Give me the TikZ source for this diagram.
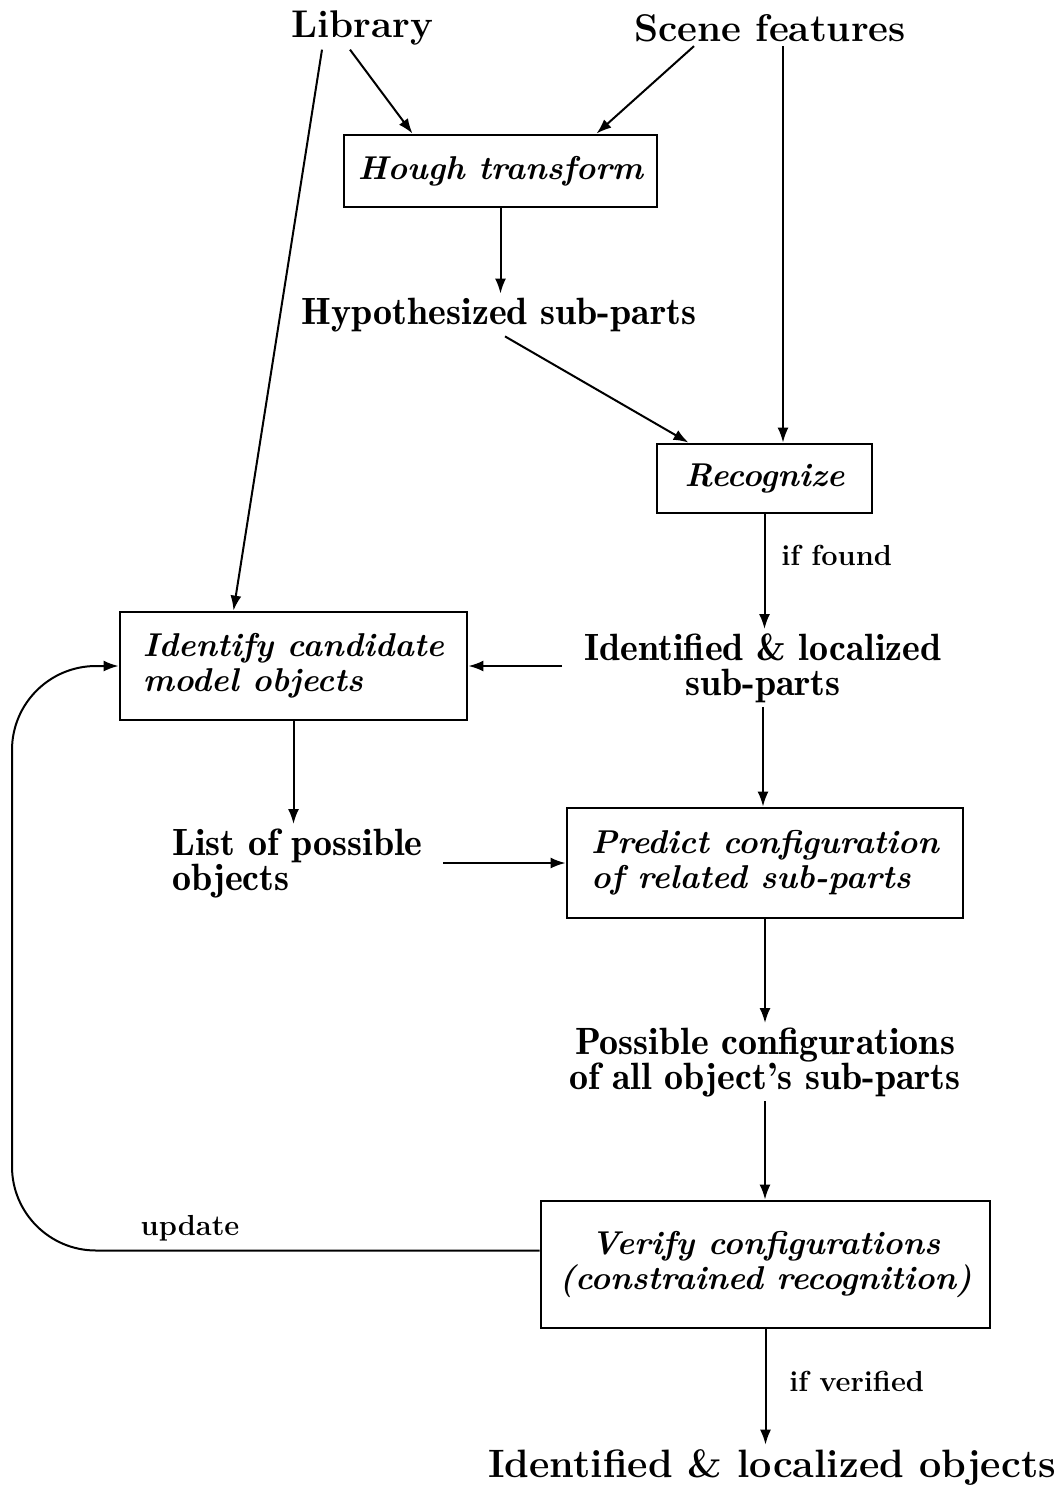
\documentclass[tikz,border=0pt]{standalone}
\usepackage{tikz}
\usetikzlibrary{arrows.meta}

\begin{document}
\begin{tikzpicture}[x=0.5pt, y=-0.5pt,
    box/.style={draw=black, line width=1.4pt, inner sep=0pt, font=\fontsize{16.5}{17.5}\selectfont\bfseries\itshape},
    head/.style={font=\fontsize{19.3}{18}\selectfont\bfseries, inner sep=2pt},
    data/.style={font=\fontsize{19}{17.5}\fontseries{b}\selectfont, inner sep=2pt},
    cond/.style={font=\fontsize{14.5}{16}\selectfont\bfseries, inner sep=2pt},
    every edge/.style={draw=black, line width=1pt, -{Latex[length=7.5pt, width=5.5pt]}}]
  \useasboundingbox (0,0) rectangle (1062,1488);

  \node[head] (lib) at (362,28) {Library};
  \node[head] (scene) at (770,28) {Scene features};
  \node[box, minimum width=156.5pt, minimum height=36pt] (hough) at (500.5,171) {Hough transform};
  \node[data] (hyp) at (499,315) {Hypothesized sub-parts};
  \node[box, minimum width=107.5pt, minimum height=34.5pt] (recog) at (764.5,478.5) {Recognize};
  \node[data, align=center] (idsub) at (763,668) {Identified \& localized\\sub-parts};
  \node[box, align=left, minimum width=173.5pt, minimum height=54pt] (ident) at (293.5,666) {Identify candidate\\model objects};
  \node[data, align=left, anchor=west] (list) at (168,863) {List of possible\\objects};
  \node[box, align=left, minimum width=198pt, minimum height=55pt] (pred) at (765,863) {Predict configuration\\of related sub-parts};
  \node[data, align=center] (poss) at (765,1062) {Possible configurations\\of all object's sub-parts};
  \node[box, align=center, minimum width=224.5pt, minimum height=63.5pt] (verif) at (765.5,1264.5) {Verify configurations\\(constrained recognition)};
  \node[head, font=\fontsize{19.8}{18}\selectfont\bfseries] (out) at (772,1467) {Identified \& localized objects};
  \node[cond, anchor=west] (found) at (777,555) {if found};
  \node[cond, anchor=west] (verified) at (785,1381) {if verified};
  \node[cond] (upd) at (190,1228) {update};
  \coordinate (bend) at (12,666);

  \path ([xshift=-6pt]lib.south) edge ([xshift=-44pt]hough.north);
  \path ([xshift=-38pt]scene.south) edge ([xshift=48pt]hough.north);
  \path ([xshift=6.5pt]scene.south) edge ([xshift=6.5pt]scene.south |- recog.north);
  \path ([xshift=-20pt]lib.south) edge ([xshift=-30pt]ident.north);
  \path (hough.south) edge (hough.south |- hyp.north);
  \path ([xshift=3pt]hyp.south) edge ([xshift=-38pt]recog.north);
  \path (recog.south) edge (recog.south |- idsub.north);
  \path ([xshift=-9pt]idsub.west |- ident.east) edge (ident.east);
  \path (ident.south) edge (ident.south |- list.north);
  \path ([xshift=8pt]list.east |- pred.west) edge (pred.west);
  \path (idsub.south) edge (idsub.south |- pred.north);
  \path (pred.south) edge (pred.south |- poss.north);
  \path (poss.south) edge (poss.south |- verif.north);
  \path (verif.south) edge (verif.south |- out.north);
  \draw[line width=1pt, rounded corners=42pt, -{Latex[length=7.5pt, width=5.5pt]}]
    ([yshift=7pt]verif.west) -| (bend) -- (ident.west);
\end{tikzpicture}
\end{document}
